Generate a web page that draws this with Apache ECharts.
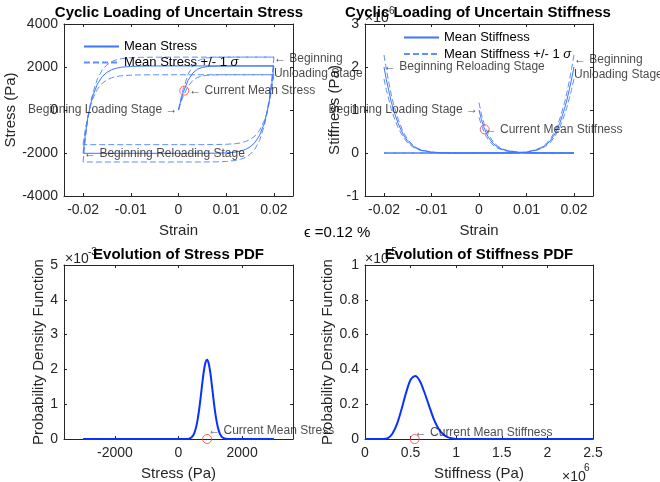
<!DOCTYPE html>
<html>
<head>
<meta charset="utf-8">
<script src="https://cdn.jsdelivr.net/npm/echarts@6/dist/echarts.min.js"></script>
<style>
html, body { margin: 0; padding: 0; background: #fff; }
#chart { width: 660px; height: 482px; }
</style>
</head>
<body>
<div id="chart"></div>
<script>
// ---- cyclic loading: strain / mean stress (Pa) / std, mean stiffness (x1e6 Pa) / std ----
const loadStrain = [0, 0.0005, 0.001, 0.0012, 0.0015, 0.002, 0.003, 0.004, 0.005, 0.006, 0.008, 0.01, 0.013, 0.016, 0.02]
const loadStress = [0, 450, 820, 900, 1100, 1380, 1720, 1900, 1980, 2020, 2045, 2050, 2050, 2050, 2050]
const loadStressStd = [0, 90, 165, 180, 220, 275, 345, 380, 395, 405, 410, 410, 410, 410, 410]
const loadStiff = [1.0, 0.78, 0.61, 0.55, 0.47, 0.36, 0.22, 0.13, 0.08, 0.05, 0.02, 0.006, 0.001, 0, 0]
const loadStiffStd = [0.17, 0.13, 0.1, 0.09, 0.08, 0.06, 0.04, 0.022, 0.014, 0.009, 0.004, 0.001, 0, 0, 0]

const unloadStrain = [0.02, 0.0195, 0.019, 0.0185, 0.018, 0.017, 0.016, 0.015, 0.014, 0.013, 0.012, 0.01, 0.008, 0.005, 0, -0.01, -0.02]
const unloadStress = [2050, 1110, 390, -170, -600, -1180, -1520, -1720, -1840, -1910, -1955, -1995, -2008, -2014, -2015, -2015, -2015]
const unloadStressStd = [410, 220, 80, 35, 120, 235, 305, 345, 370, 380, 390, 400, 402, 403, 403, 403, 403]
const unloadStiff = [2.0, 1.72, 1.47, 1.23, 1.03, 0.69, 0.45, 0.28, 0.18, 0.11, 0.07, 0.02, 0.005, 0, 0, 0, 0]
const unloadStiffStd = [0.28, 0.24, 0.2, 0.17, 0.14, 0.1, 0.06, 0.04, 0.025, 0.015, 0.01, 0.003, 0.001, 0, 0, 0, 0]

const reloadStrain = [-0.02, -0.0195, -0.019, -0.0185, -0.018, -0.017, -0.016, -0.015, -0.014, -0.013, -0.012, -0.01, -0.008, -0.005, 0, 0.01, 0.02]
const reloadStress = [-2015, -1075, -355, 200, 630, 1210, 1550, 1755, 1875, 1945, 1990, 2028, 2041, 2047, 2050, 2050, 2050]
const reloadStressStd = [403, 215, 71, 40, 126, 242, 310, 351, 375, 389, 398, 406, 408, 409, 410, 410, 410]
const reloadStiff = [2.0, 1.7, 1.45, 1.2, 1.0, 0.68, 0.44, 0.27, 0.17, 0.1, 0.06, 0.02, 0.005, 0, 0, 0, 0]
const reloadStiffStd = [0.28, 0.24, 0.2, 0.17, 0.14, 0.1, 0.06, 0.04, 0.024, 0.014, 0.008, 0.003, 0.001, 0, 0, 0, 0]

// current state
const curStrain = 0.0012
const curStress = 900
const curStiff = 0.55

// ---- PDFs ----
const stressGrid = [-3000, 300, 350, 400, 450, 500, 550, 600, 650, 700, 750, 800, 850, 900, 950, 1000, 1050, 1100, 1150, 1200, 1250, 1300, 1350, 1400, 1450, 1500, 1550, 3000]
const stressPdf = [0, 0, 0.018, 0.042, 0.09, 0.178, 0.327, 0.551, 0.855, 1.225, 1.617, 1.968, 2.206, 2.279, 2.17, 1.905, 1.541, 1.148, 0.788, 0.499, 0.291, 0.157, 0.078, 0.035, 0.015, 0.005, 0, 0] // x1e-3
const stiffGrid = [0, 0.2, 0.25, 0.3, 0.35, 0.4, 0.45, 0.5, 0.55, 0.6, 0.65, 0.7, 0.75, 0.8, 0.85, 0.9, 0.95, 1.0, 2.5] // x1e6
const stiffPdf = [0, 0, 0.005, 0.03, 0.085, 0.17, 0.265, 0.34, 0.362, 0.335, 0.27, 0.195, 0.12, 0.065, 0.03, 0.012, 0.004, 0, 0] // x1e-5
const stressPdfMean = 900
const stiffPdfMean = 0.545

const strainTicks = [-0.02, -0.01, 0, 0.01, 0.02]
const stressPdfTicks = [-2000, 0, 2000]

const FONT = '"Liberation Sans", Arial, Helvetica, sans-serif'
const AXIS = '#262626'
const MEAN = '#3f74ff'
const BAND = '#5c8fff'
const PDFC = '#0a32ff'
const RED = '#ff3b3b'

const pairs = (xs, ys) => xs.map((x, i) => [x, ys[i]])
const shifted = (xs, ys, sd, s) => xs.map((x, i) => [x, ys[i] + s * sd[i]])
const fmt = v => String(v)

const grids = [
	{ left: 64, top: 24, width: 229, height: 172 },
	{ left: 365, top: 24, width: 228, height: 172 },
	{ left: 64, top: 265, width: 229, height: 174 },
	{ left: 365, top: 265, width: 228, height: 174 }
]

function axisBase(g, c) {
	return {
		type: "value",
		gridIndex: g,
		min: c.min,
		max: c.max,
		interval: c.interval,
		axisLine: { show: true, onZero: false, lineStyle: { color: AXIS, width: 1 } },
		axisTick: { show: true, inside: true, length: 3, lineStyle: { color: AXIS }, customValues: c.ticks },
		splitLine: { show: false }
	}
}

function xPair(g, c) {
	const bottom = axisBase(g, c)
	bottom.position = "bottom"
	bottom.axisLabel = { color: AXIS, fontSize: 14, fontFamily: FONT, margin: 7, customValues: c.ticks, formatter: fmt }
	bottom.name = c.name
	bottom.nameLocation = "middle"
	bottom.nameGap = 27
	bottom.nameTextStyle = { color: AXIS, fontSize: 15, fontFamily: FONT }
	const top = axisBase(g, c)
	top.position = "top"
	top.axisLabel = { show: false }
	return [bottom, top]
}

function yPair(g, c) {
	const left = axisBase(g, c)
	left.position = "left"
	left.axisLabel = { color: AXIS, fontSize: 14, fontFamily: FONT, margin: 6, formatter: fmt }
	left.name = c.name
	left.nameLocation = "middle"
	left.nameGap = c.gap
	left.nameTextStyle = { color: AXIS, fontSize: 15, fontFamily: FONT }
	const right = axisBase(g, c)
	right.position = "right"
	right.axisLabel = { show: false }
	return [left, right]
}

const xAxis = [].concat(
	xPair(0, { min: -0.024, max: 0.024, ticks: strainTicks, name: "Strain" }),
	xPair(1, { min: -0.024, max: 0.024, ticks: strainTicks, name: "Strain" }),
	xPair(2, { min: -3600, max: 3600, ticks: stressPdfTicks, name: "Stress (Pa)" }),
	xPair(3, { min: 0, max: 2.5, interval: 0.5, name: "Stiffness (Pa)" })
)
const yAxis = [].concat(
	yPair(0, { min: -4000, max: 4000, interval: 2000, name: "Stress (Pa)", gap: 45 }),
	yPair(1, { min: -1, max: 3, interval: 1, name: "Stiffness (Pa)", gap: 21 }),
	yPair(2, { min: 0, max: 5, interval: 1, name: "Probability Density Function", gap: 17 }),
	yPair(3, { min: 0, max: 1, interval: 0.2, name: "Probability Density Function", gap: 28 })
)

function line(name, g, data, color, dashed, width) {
	return {
		type: "line",
		name: name,
		xAxisIndex: 2 * g,
		yAxisIndex: 2 * g,
		data: data,
		symbol: "none",
		silent: true,
		lineStyle: { color: color, width: width || 1, type: dashed ? [6, 3] : "solid" },
		itemStyle: { color: color },
		z: dashed ? 2 : 3
	}
}

function note(g, x, y, text, pos, dist) {
	return {
		type: "scatter",
		xAxisIndex: 2 * g,
		yAxisIndex: 2 * g,
		data: [[x, y]],
		symbol: "circle",
		symbolSize: 0,
		silent: true,
		z: 6,
		label: { show: true, formatter: text, position: pos, distance: dist, color: "#1a1a1a", fontSize: 12, fontFamily: FONT, lineHeight: 15 }
	}
}

function marker(g, x, y) {
	return {
		type: "scatter",
		xAxisIndex: 2 * g,
		yAxisIndex: 2 * g,
		data: [[x, y]],
		symbol: "circle",
		symbolSize: 9,
		silent: true,
		z: 7,
		itemStyle: { color: "rgba(0,0,0,0)", borderColor: RED, borderWidth: 1 }
	}
}

const series = []
// stress
const sMean = "Mean Stress"
const sBand = "Mean Stress +/- 1 σ"
;[[loadStrain, loadStress, loadStressStd], [unloadStrain, unloadStress, unloadStressStd], [reloadStrain, reloadStress, reloadStressStd]].forEach(b => {
	series.push(line(sBand, 0, shifted(b[0], b[1], b[2], 1), BAND, true))
	series.push(line(sBand, 0, shifted(b[0], b[1], b[2], -1), BAND, true))
	series.push(line(sMean, 0, pairs(b[0], b[1]), MEAN, false))
})
// stiffness
const kMean = "Mean Stiffness"
const kBand = "Mean Stiffness +/- 1 σ"
;[[loadStrain, loadStiff, loadStiffStd], [unloadStrain, unloadStiff, unloadStiffStd], [reloadStrain, reloadStiff, reloadStiffStd]].forEach(b => {
	series.push(line(kBand, 1, shifted(b[0], b[1], b[2], 1), BAND, true))
	series.push(line(kBand, 1, shifted(b[0], b[1], b[2], -1), BAND, true))
	series.push(line(kMean, 1, pairs(b[0], b[1]), MEAN, false))
})
// pdfs
const sp = line("stressPdf", 2, pairs(stressGrid, stressPdf), PDFC, false, 2)
sp.smooth = 0.3
series.push(sp)
const kp = line("stiffPdf", 3, pairs(stiffGrid, stiffPdf), PDFC, false, 2)
kp.smooth = 0.3
series.push(kp)

// markers + annotations
series.push(marker(0, curStrain, curStress))
series.push(marker(1, curStrain, curStiff))
series.push(marker(2, stressPdfMean, 0))
series.push(marker(3, stiffPdfMean, 0))

series.push(note(0, 0.02, 2050, "← Beginning\nUnloading Stage", "right", 0))
series.push(note(0, curStrain, curStress, "← Current Mean Stress", "right", 5))
series.push(note(0, 0, 0, "Beginning Loading Stage →", "left", 1))
series.push(note(0, -0.02, -2015, "← Beginning Reloading Stage", "right", 1))

series.push(note(1, 0.02, 2.0, "← Beginning\nUnloading Stage", "right", 0))
series.push(note(1, curStrain, curStiff, "← Current Mean Stiffness", "right", 0))
series.push(note(1, 0, 1.0, "Beginning Loading Stage →", "left", 1))
series.push(note(1, -0.02, 2.0, "← Beginning Reloading Stage", "right", 0))

series.push(note(2, stressPdfMean, 0.228, "← Current Mean Stress", "right", 1))
series.push(note(3, stiffPdfMean, 0.036, "← Current Mean Stiffness", "right", 0))

const legendText = { fontSize: 13, fontFamily: FONT, color: "#000", rich: { s: { fontSize: 13, fontFamily: FONT, fontStyle: "italic", color: "#000" } } }
const legend = [
	{ data: [sMean, sBand], left: 83, top: 40, itemGap: 3 },
	{ data: [kMean, kBand], left: 403, top: 31, itemGap: 3.5 }
].map(l => Object.assign(l, {
	orient: "vertical",
	padding: 0,
	itemWidth: 35,
	itemHeight: 14,
	selectedMode: false,
	itemStyle: { color: "rgba(0,0,0,0)", borderColor: "rgba(0,0,0,0)", borderWidth: 0 },
	textStyle: legendText,
	formatter: n => n.replace("σ", "{s|σ}")
}))

function txt(x, y, text, size, extra) {
	return {
		type: "text",
		x: x,
		y: y,
		z: (extra && extra.z) || 5,
		style: Object.assign({ text: text, fontSize: size, fontFamily: FONT, fill: AXIS, align: "left", verticalAlign: "middle" }, extra && extra.style)
	}
}

const titleStyle = { style: { fontWeight: "bold", fill: "#000", align: "center" }, z: 10 }
const graphic = [
	txt(365, 18, "×10", 14),
	txt(389, 11, "6", 10),
	txt(65, 259, "×10", 14),
	txt(88, 252, "-3", 10),
	txt(365, 259, "×10", 14),
	txt(388, 252, "-5", 10),
	txt(562, 477, "×10", 14),
	txt(584, 468, "6", 10),
	txt(179, 13, "Cyclic Loading of Uncertain Stress", 15, titleStyle),
	txt(478, 13, "Cyclic Loading of Uncertain Stiffness", 15, titleStyle),
	txt(178.5, 255, "Evolution of Stress PDF", 15, titleStyle),
	txt(479, 255, "Evolution of Stiffness PDF", 15, titleStyle),
	txt(304, 233, "ϵ =0.12 %", 15, { style: { fill: "#000" } })
]

const chart = echarts.init(document.getElementById("chart"))
chart.setOption({
	backgroundColor: "#fff",
	animation: false,
	grid: grids,
	xAxis: xAxis,
	yAxis: yAxis,
	legend: legend,
	series: series,
	graphic: graphic
})
</script>
</body>
</html>
